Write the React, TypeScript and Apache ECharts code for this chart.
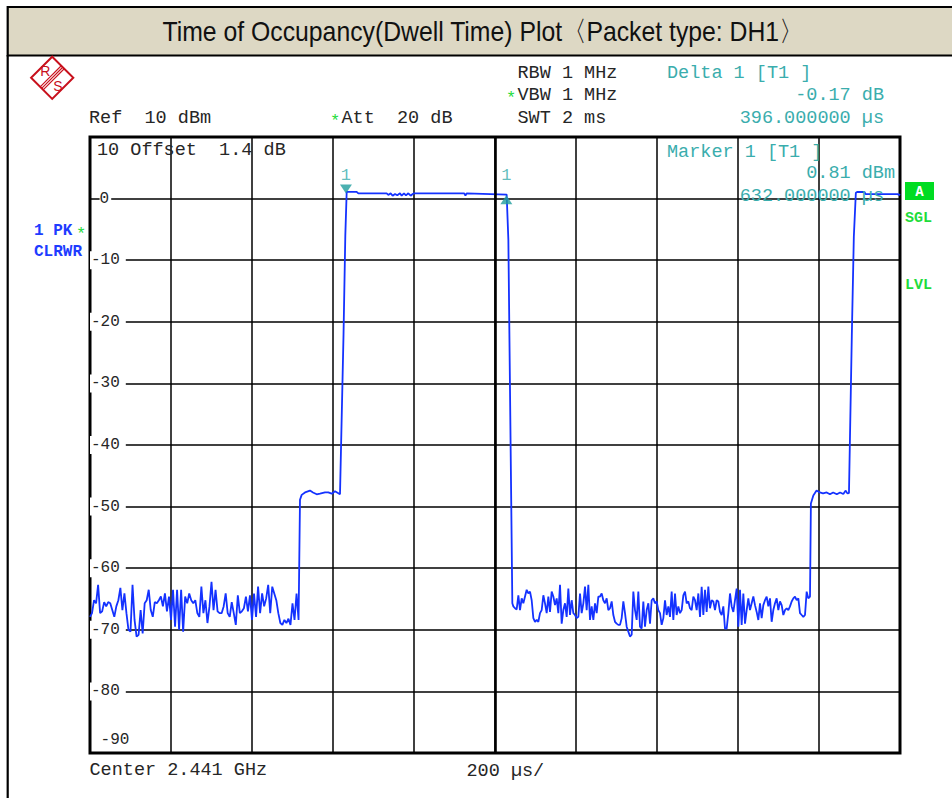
import React, { useEffect, useRef } from "react";
import * as echarts from "echarts";

// ---------- data ----------
const TITLE = "Time of Occupancy(Dwell Time) Plot〈Packet type: DH1〉";
const X_MIN = 0; // µs
const X_MAX = 2000; // µs (SWT 2 ms)
const X_DIV = 200; // µs / div
const Y_MIN = -90; // dBm
const Y_MAX = 10; // dBm (Ref)
const Y_DIV = 10; // dB / div
const CENTER_US = 1000;
const OFFSET_TEXT = "Offset  1.4 dB";

// noise floor before the first burst (sampled every 5 µs from 0 µs)
const noiseAStart = 0;
const noiseAStep = 5;
const noiseA = [
  -67.9, -67.3, -65.2, -65.7, -62.7, -67.3, -67.0, -65.5, -66.2, -65.5,
  -65.7, -66.8, -67.9, -66.2, -65.2, -63.2, -66.8, -64.1, -67.3, -70.0,
  -70.3, -62.7, -68.4, -71.1, -70.8, -66.8, -70.6, -65.7, -65.2, -63.5,
  -66.8, -67.9, -65.5, -65.7, -65.2, -64.6, -66.2, -64.1, -67.0, -64.6,
  -68.4, -63.5, -69.5, -63.5, -70.0, -63.5, -70.3, -64.6, -65.7, -64.1,
  -65.2, -65.7, -65.2, -67.3, -67.9, -63.0, -67.3, -65.2, -68.9, -66.2,
  -62.2, -66.8, -63.5, -67.0, -67.3, -67.3, -66.2, -64.1, -67.3, -67.9,
  -65.5, -67.3, -69.2, -64.4, -67.3, -67.0, -66.5, -64.6, -67.0, -64.4,
  -68.4, -64.1, -67.9, -63.0, -67.3, -64.1, -66.2, -64.9, -62.7, -67.3,
  -63.0, -64.1, -65.2, -67.3, -68.9, -69.2, -68.4, -68.9, -68.2, -69.2,
  -65.7, -68.4, -64.1, -68.4,
];

// first burst: pre-step, rise, flat top, fall [µs, dBm]
const burstA: [number, number][] = [
  [518.5, -48.9], [522.7, -48.1], [530.9, -47.7], [543.2, -47.4], [550.6, -47.7],
  [559.8, -48.0], [567.9, -47.9], [580.2, -47.7], [588.4, -47.7], [596.8, -47.9],
  [604.9, -47.5], [617.3, -48.0], [626.0, -22.0], [630.4, -6.0], [633.8, 1.1],
  [658.4, 1.1], [662.5, 0.86], [732.5, 0.86], [736.6, 0.6], [742.3, 0.86],
  [747.3, 0.47], [753.1, 0.75], [758.8, 0.53], [765.4, 0.86], [769.5, 0.47],
  [775.3, 0.86], [780.2, 0.53], [786.0, 0.86], [791.8, 0.47], [796.7, 0.75],
  [800.0, 0.86], [924.0, 0.86], [927.0, 0.47], [930.0, 0.86], [1028.8, 0.66],
  [1033.0, -6.7], [1042.8, -65.7],
];

// noise floor between bursts (sampled every 4.115 µs from 1045.3 µs)
const noiseBStart = 1045.3;
const noiseBStep = 4.115;
const noiseB = [
  -66.2, -66.5, -66.7, -64.4, -66.8, -64.9, -65.7, -64.6, -63.5, -64.1,
  -63.8, -65.2, -68.1, -68.7, -68.4, -68.7, -67.3, -66.8, -64.4, -65.7,
  -67.3, -64.6, -67.1, -63.8, -64.6, -66.0, -64.9, -67.3, -62.7, -69.0,
  -66.8, -65.7, -67.9, -63.3, -67.6, -65.2, -67.3, -67.6, -68.1, -67.9,
  -64.1, -67.3, -65.7, -63.0, -66.8, -62.7, -68.4, -66.2, -68.4, -65.7,
  -67.3, -64.6, -64.6, -64.1, -65.2, -65.7, -64.9, -66.8, -66.5, -65.4,
  -67.6, -68.7, -69.0, -69.2, -69.2, -68.1, -65.4, -67.3, -69.5, -70.3,
  -71.1, -70.8, -63.8, -66.8, -68.4, -63.8, -69.5, -69.8, -65.4, -69.5,
  -66.8, -65.7, -69.0, -65.2, -64.9, -65.7, -65.4, -66.8, -67.3, -69.2,
  -68.1, -65.2, -67.6, -66.2, -67.9, -63.8, -68.4, -64.1, -67.6, -66.2,
  -67.3, -66.8, -64.4, -63.8, -65.7, -65.4, -66.5, -66.8, -64.6, -65.2,
  -66.8, -64.1, -67.9, -63.0, -67.6, -63.5, -67.1, -63.0, -66.5, -65.2,
  -65.4, -66.8, -65.2, -65.4, -67.1, -67.6, -66.2, -69.8, -69.8, -67.3,
  -64.1, -66.2, -67.1, -65.2, -63.3, -69.5, -63.5, -69.2, -64.1, -69.0,
  -66.8, -64.9, -66.8, -65.7, -64.6, -66.0, -67.1, -68.4, -65.7, -68.1,
  -66.0, -65.2, -64.6, -66.2, -64.9, -68.7, -66.8, -65.7, -64.9, -66.8,
  -65.4, -66.0, -67.6, -66.8, -66.5, -66.8, -66.2, -65.4, -64.9, -64.6,
  -65.2, -64.9, -67.3, -67.6, -67.9, -67.6, -63.8, -64.9, -64.6,
];

// second burst: pre-step, rise, flat top [µs, dBm]
const burstB: [number, number][] = [
  [1780, -49.5], [1786, -48.2], [1794, -47.4], [1802, -47.7], [1810, -47.85],
  [1819, -47.7], [1827, -48.0], [1835, -47.7], [1844, -48.0], [1852, -47.7],
  [1860, -47.96], [1866, -47.4], [1870, -47.85], [1874, -47.8], [1881, -22.4],
  [1886, -6.2], [1891, 0.96], [1894, 1.07], [1912, 1.07], [1915, 0.74],
  [1995, 0.74], [1997, 0.55], [2000, 0.74],
];

const marker1: [number, number] = [632, 0.81];
const delta1: [number, number] = [1028, 0.64];

// ---------- styles ----------
const MONO = "'Liberation Mono', 'Courier New', monospace";
const SANS = "'Liberation Sans', Arial, sans-serif";
const DARK = "#262626";
const TEAL = "#3aadad";
const BLUE = "#1e3cff";
const TRACE = "#1432ff";
const GREEN = "#1fdc3c";
const RED = "#c8101c";

type TOpt = { size?: number; weight?: string; family?: string; fill?: string; align?: string; scaleX?: number };
const T = (text: string, x: number, y: number, o: TOpt = {}) => {
  const align = o.align ?? "left";
  return {
    type: "text",
    x,
    y,
    z: 100,
    silent: true,
    scaleX: o.scaleX ?? 1,
    style: {
      text,
      fill: o.fill ?? DARK,
      font: `${o.weight ?? "normal"} ${o.size ?? 18.5}px ${o.family ?? MONO}`,
      align,
      textAlign: align,
      verticalAlign: "middle",
      textVerticalAlign: "middle",
    },
  };
};

export default function App() {
  const ref = useRef<HTMLDivElement>(null);

  useEffect(() => {
    if (!ref.current) return;
    const chart = echarts.init(ref.current, undefined, { renderer: "svg" });

    const trace: [number, number][] = [
      ...noiseA.map((v, i) => [noiseAStart + i * noiseAStep, v] as [number, number]),
      ...burstA,
      ...noiseB.map((v, i) => [noiseBStart + i * noiseBStep, v] as [number, number]),
      ...burstB,
    ];

    const logoLines = [127, 130, 133].map((c) => ({
      type: "line",
      silent: true,
      z: 100,
      shape: { x1: (c - 4.5) / 2, y1: (c + 4.5) / 2, x2: (c - 46.7) / 2, y2: (c + 46.7) / 2 },
      style: { stroke: RED, lineWidth: 1.1 },
    }));

    const option: any = {
      animation: false,
      backgroundColor: "#ffffff",
      grid: {
        left: 90,
        top: 137,
        right: 52,
        bottom: 45,
        show: true,
        borderColor: "#000",
        borderWidth: 3,
        backgroundColor: "transparent",
        containLabel: false,
        outerBoundsMode: "none",
      },
      xAxis: {
        type: "value",
        min: X_MIN,
        max: X_MAX,
        interval: X_DIV,
        axisLine: { show: false },
        axisTick: { show: false },
        axisLabel: { show: false },
        splitLine: { show: true, lineStyle: { color: "#000", width: 1.5, type: "solid" } },
      },
      yAxis: {
        type: "value",
        min: Y_MIN,
        max: Y_MAX,
        interval: Y_DIV,
        axisLine: { show: false },
        axisTick: { show: false },
        splitLine: { show: true, lineStyle: { color: "#000", width: 1.5, type: "solid" } },
        axisLabel: {
          show: true,
          inside: true,
          margin: 0,
          align: "left",
          verticalAlign: "middle",
          formatter: (v: number) => {
            if (v === Y_MAX) return `{sp| }\n{top|${v} ${OFFSET_TEXT}}`;
            if (v === Y_MIN) return `{g| }{n|${v}}\n{sp| }`;
            if (v === 0) return `{g| }{z|${v}}`;
            return `{n|${v}}`;
          },
          rich: {
            n: { fontFamily: MONO, fontSize: 16, color: DARK, backgroundColor: "#fff", padding: [1, 6, 1, 1], lineHeight: 17 },
            z: { fontFamily: MONO, fontSize: 16, color: DARK, backgroundColor: "#fff", padding: [1, 2, 1, 0], lineHeight: 17 },
            g: { fontFamily: MONO, fontSize: 16, lineHeight: 17 },
            sp: { fontSize: 10, lineHeight: 26 },
            top: { fontFamily: MONO, fontSize: 18.5, color: DARK, padding: [0, 0, 0, 7], lineHeight: 18 },
          },
        },
      },
      series: [
        {
          type: "line",
          data: [],
          z: 1,
          silent: true,
          markLine: {
            silent: true,
            symbol: ["none", "none"],
            label: { show: false },
            lineStyle: { color: "#000", width: 2.6, type: "solid" },
            data: [{ xAxis: CENTER_US }],
          },
        },
        {
          type: "line",
          data: trace,
          z: 3,
          showSymbol: false,
          symbol: "none",
          silent: true,
          lineStyle: { color: TRACE, width: 1.8 },
        },
        {
          type: "scatter",
          z: 5,
          silent: true,
          itemStyle: { color: "#1f9e9e" },
          label: { show: true, formatter: "1", color: TEAL, fontFamily: MONO, fontSize: 17, position: "top" },
          data: [
            { value: marker1, symbol: "triangle", symbolRotate: 180, symbolSize: [12, 9], symbolOffset: [0, -4.5], label: { distance: 1 } },
            { value: delta1, symbol: "triangle", symbolSize: [12, 9], symbolOffset: [0, 5], label: { distance: 11 } },
          ],
        },
      ],
      graphic: {
        elements: [
          // frame and title band
          {
            type: "rect",
            silent: true,
            z: 90,
            shape: { x: 7.7, y: 7, width: 960, height: 48.5 },
            style: { fill: "#ddd8c4", stroke: "#000", lineWidth: 2.2 },
          },
          {
            type: "line",
            silent: true,
            z: 90,
            shape: { x1: 7.7, y1: 55, x2: 7.7, y2: 805 },
            style: { stroke: "#000", lineWidth: 2.2 },
          },
          T(TITLE, 483, 31, { size: 28, family: SANS, fill: "#111", align: "center", scaleX: 0.885 }),
          // R&S logo
          {
            type: "polygon",
            silent: true,
            z: 100,
            shape: { points: [[52.2, 56.7], [73.3, 77.8], [52.2, 98.9], [31.1, 77.8]] },
            style: { fill: "none", stroke: RED, lineWidth: 2 },
          },
          ...logoLines,
          T("R", 45.2, 70.5, { size: 14, family: SANS, fill: RED, align: "center" }),
          T("S", 58, 86, { size: 14, family: SANS, fill: RED, align: "center" }),
          // instrument settings
          T("RBW 1 MHz", 517.5, 73),
          T("*", 506, 98, { size: 17, fill: GREEN }),
          T("VBW 1 MHz", 517.5, 95),
          T("SWT 2 ms", 517.5, 118),
          T("Ref  10 dBm", 89, 118),
          T("*", 330, 121, { size: 17, fill: GREEN }),
          T("Att  20 dB", 341.5, 118),
          // delta / marker readouts
          T("Delta 1 [T1 ]", 667, 73, { fill: TEAL }),
          T("-0.17 dB", 884, 95, { fill: TEAL, align: "right" }),
          T("396.000000 µs", 884, 118, { fill: TEAL, align: "right" }),
          T("Marker 1 [T1 ]", 667, 152, { fill: TEAL }),
          T("0.81 dBm", 895, 173, { fill: TEAL, align: "right" }),
          T("632.000000 µs", 884, 196, { fill: TEAL, align: "right" }),
          // trace info
          T("1 PK", 34, 231, { size: 16, weight: "bold", fill: BLUE }),
          T("*", 76, 234, { size: 17, fill: GREEN }),
          T("CLRWR", 34, 251.5, { size: 16, weight: "bold", fill: BLUE }),
          // right side status
          {
            type: "rect",
            silent: true,
            z: 100,
            shape: { x: 905, y: 182, width: 29, height: 18 },
            style: { fill: "#00dc22" },
          },
          T("A", 919.5, 191.5, { size: 14, weight: "bold", fill: "#ffffff", align: "center" }),
          T("SGL", 905, 218.5, { size: 15, weight: "bold", fill: GREEN }),
          T("LVL", 905, 285, { size: 15, weight: "bold", fill: GREEN }),
          // bottom
          T("Center 2.441 GHz", 89.5, 770.5),
          T("200 µs/", 466.5, 771),
        ],
      },
    };

    chart.setOption(option);
    return () => chart.dispose();
  }, []);

  return (
    <div
      ref={ref}
      style={{ position: "absolute", left: 0, top: 0, width: 952, height: 798, background: "#fff" }}
    />
  );
}
